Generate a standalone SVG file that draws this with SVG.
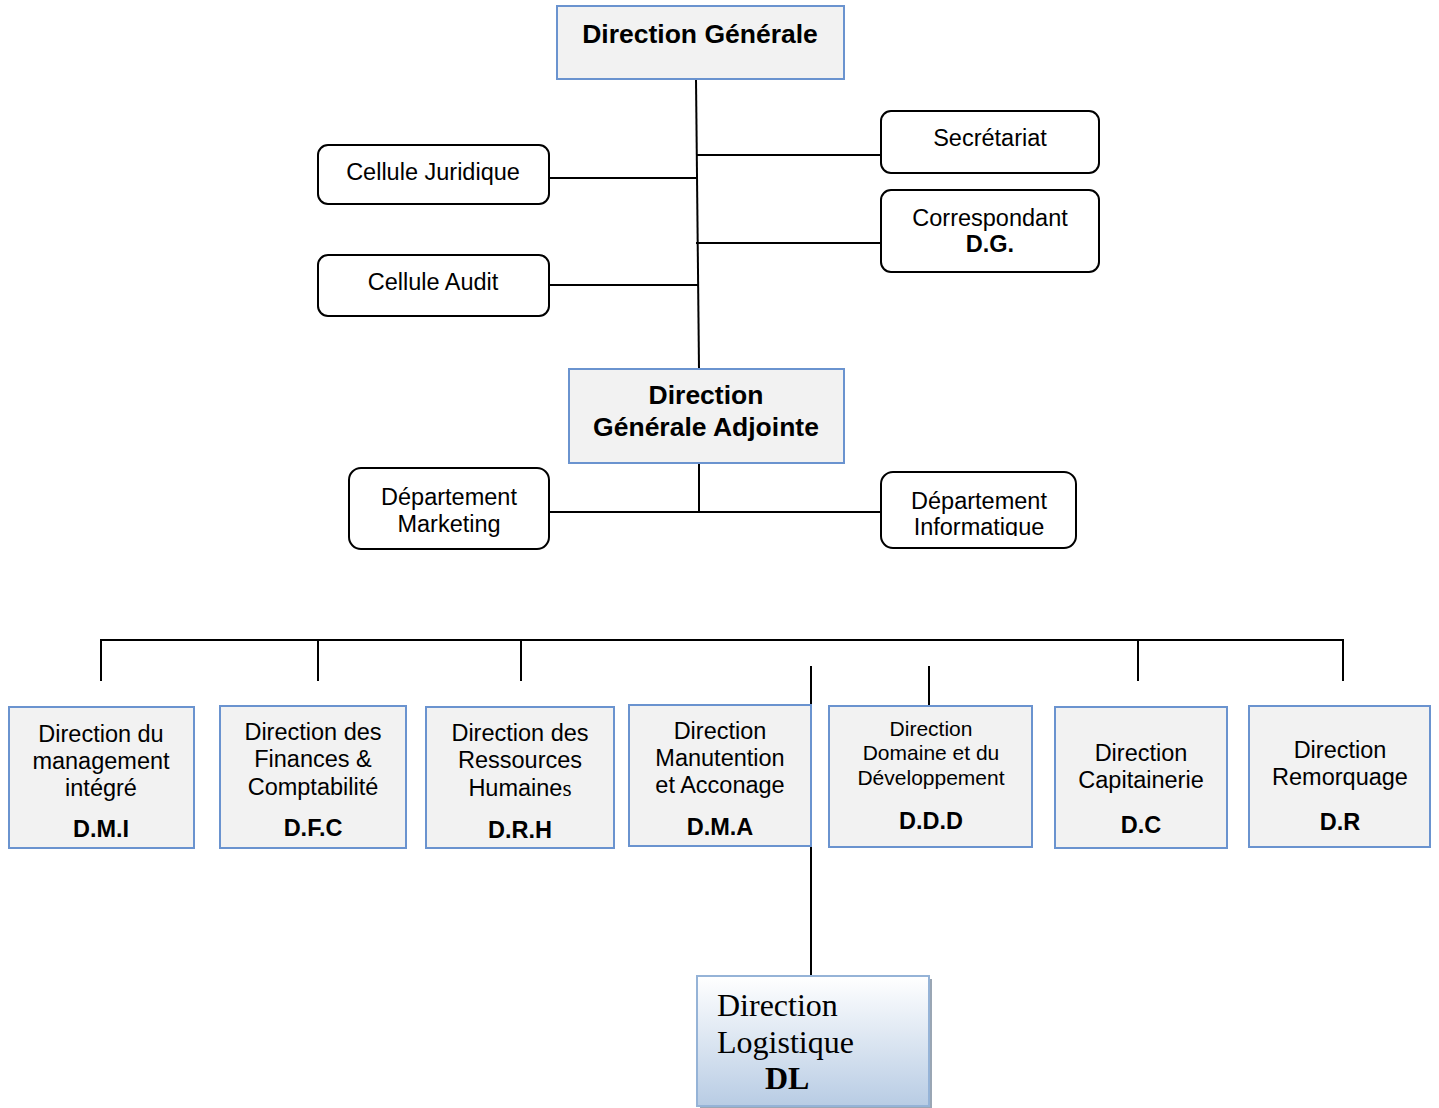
<svg xmlns="http://www.w3.org/2000/svg" width="1439" height="1108" viewBox="0 0 1439 1108">
<defs>
<style>
.t{font-family:"Liberation Sans",Arial,sans-serif;font-size:23.5px;fill:#000;text-anchor:middle}
.b{font-weight:bold}
.s{font-size:21px}
.big{font-size:26.5px;font-weight:bold}
.blue{fill:#f2f2f2;stroke:#6a93cf;stroke-width:2}
.rr{fill:#fff;stroke:#000;stroke-width:2}
.ln{stroke:#000;stroke-width:2;fill:none}
.ser{font-family:"Liberation Serif","Times New Roman",serif;font-size:32px;fill:#000}
</style>
<linearGradient id="gDL" x1="0" y1="0" x2="0" y2="1">
<stop offset="0" stop-color="#ffffff"/>
<stop offset="1" stop-color="#b8cce4"/>
</linearGradient>
<clipPath id="clipInfo"><rect x="880" y="470" width="200" height="66"/></clipPath>
</defs>
<rect width="1439" height="1108" fill="#fff"/>

<g id="connectors">
<path class="ln" d="M696,79 L699,368"/>
<path class="ln" d="M697,155 H881"/>
<path class="ln" d="M696,243 H881"/>
<path class="ln" d="M549,178 H697"/>
<path class="ln" d="M549,285 H698"/>
<path class="ln" d="M699,463 V512"/>
<path class="ln" d="M549,512 H881"/>
<path class="ln" d="M101,681 V640 H1343 V681"/>
<path class="ln" d="M318,640 V681"/>
<path class="ln" d="M521,640 V681"/>
<path class="ln" d="M1138,640 V681"/>
<path class="ln" d="M929,666 V706"/>
<path class="ln" d="M811,666 V976"/>
</g>

<g id="dg">
<rect class="blue" x="557" y="6" width="287" height="73"/>
<text class="t big" x="700" y="43">Direction Générale</text>
</g>

<g id="secretariat">
<rect class="rr" x="881" y="111" width="218" height="62" rx="10"/>
<text class="t" x="990" y="146">Secrétariat</text>
</g>

<g id="correspondant">
<rect class="rr" x="881" y="190" width="218" height="82" rx="10"/>
<text class="t" x="990" y="226">Correspondant</text>
<text class="t b" x="990" y="252">D.G.</text>
</g>

<g id="juridique">
<rect class="rr" x="318" y="145" width="231" height="59" rx="10"/>
<text class="t" x="433" y="180">Cellule Juridique</text>
</g>

<g id="audit">
<rect class="rr" x="318" y="255" width="231" height="61" rx="10"/>
<text class="t" x="433" y="290">Cellule Audit</text>
</g>

<g id="dga">
<rect class="blue" x="569" y="369" width="275" height="94"/>
<text class="t big" x="706" y="404">Direction</text>
<text class="t big" x="706" y="436">Générale Adjointe</text>
</g>

<g id="marketing">
<rect class="rr" x="349" y="468" width="200" height="81" rx="12"/>
<text class="t" x="449" y="505">Département</text>
<text class="t" x="449" y="532">Marketing</text>
</g>

<g id="informatique">
<rect class="rr" x="881" y="472" width="195" height="76" rx="12"/>
<text class="t" x="979" y="509">Département</text>
<text class="t" x="979" y="535" clip-path="url(#clipInfo)">Informatique</text>
</g>

<g id="dmi">
<rect class="blue" x="9" y="707" width="185" height="141"/>
<text class="t" x="101" y="742">Direction du</text>
<text class="t" x="101" y="769">management</text>
<text class="t" x="101" y="796">intégré</text>
<text class="t b" x="101" y="837">D.M.I</text>
</g>

<g id="dfc">
<rect class="blue" x="220" y="706" width="186" height="142"/>
<text class="t" x="313" y="740">Direction des</text>
<text class="t" x="313" y="767">Finances &amp;</text>
<text class="t" x="313" y="795">Comptabilité</text>
<text class="t b" x="313" y="836">D.F.C</text>
</g>

<g id="drh">
<rect class="blue" x="426" y="707" width="188" height="141"/>
<text class="t" x="520" y="741">Direction des</text>
<text class="t" x="520" y="768">Ressources</text>
<text class="t" x="520" y="796">Humaine<tspan font-family="Liberation Serif, Times New Roman, serif">s</tspan></text>
<text class="t b" x="520" y="838">D.R.H</text>
</g>

<g id="dma">
<rect class="blue" x="629" y="705" width="182" height="141"/>
<text class="t" x="720" y="739">Direction</text>
<text class="t" x="720" y="766">Manutention</text>
<text class="t" x="720" y="793">et Acconage</text>
<text class="t b" x="720" y="835">D.M.A</text>
</g>

<g id="ddd">
<rect class="blue" x="829" y="706" width="203" height="141"/>
<text class="t s" x="931" y="736">Direction</text>
<text class="t s" x="931" y="760">Domaine et du</text>
<text class="t s" x="931" y="785">Développement</text>
<text class="t b" x="931" y="829" font-size="26">D.D.D</text>
</g>

<g id="dc">
<rect class="blue" x="1055" y="707" width="172" height="141"/>
<text class="t" x="1141" y="761">Direction</text>
<text class="t" x="1141" y="788">Capitainerie</text>
<text class="t b" x="1141" y="833" font-size="25.5">D.C</text>
</g>

<g id="dr">
<rect class="blue" x="1249" y="706" width="181" height="141"/>
<text class="t" x="1340" y="758">Direction</text>
<text class="t" x="1340" y="785">Remorquage</text>
<text class="t b" x="1340" y="830" font-size="25.5">D.R</text>
</g>

<g id="dl">
<rect x="700" y="979" width="232" height="129" fill="#9aa6b4"/>
<rect x="697" y="976" width="232" height="130" fill="url(#gDL)" stroke="#95b3d7" stroke-width="2"/>
<text class="ser" x="717" y="1016">Direction</text>
<text class="ser" x="717" y="1053">Logistique</text>
<text class="ser" x="765" y="1089" font-weight="bold">DL</text>
</g>
</svg>
